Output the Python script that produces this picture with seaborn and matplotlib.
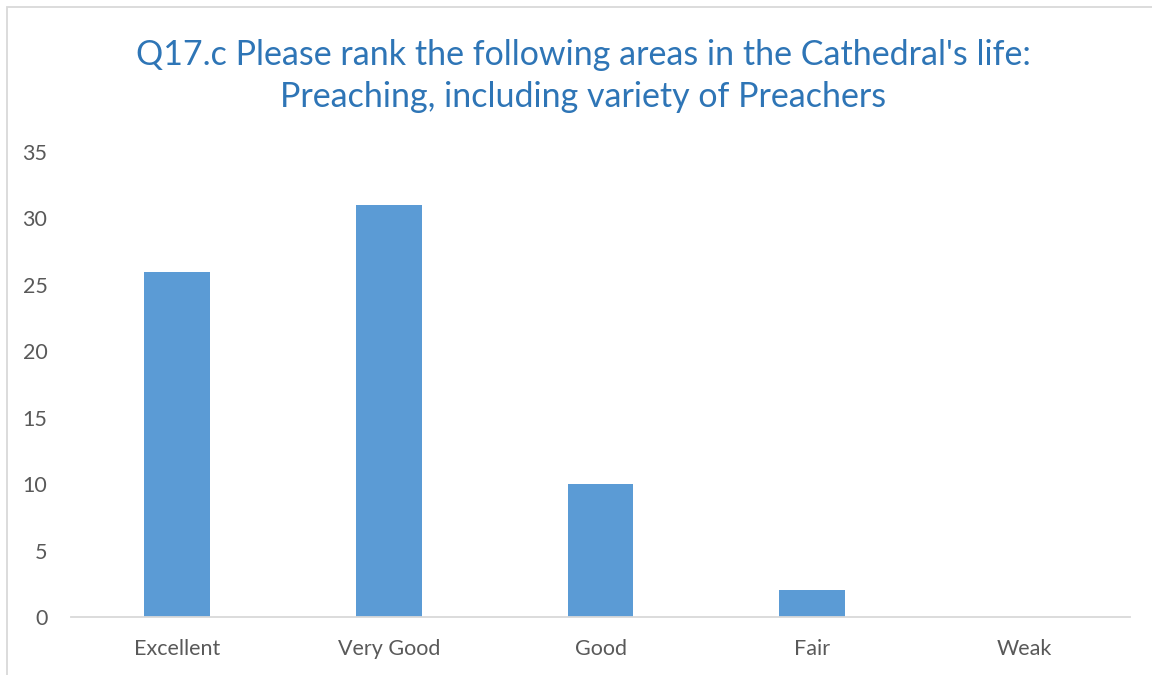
import matplotlib
matplotlib.use("Agg")
import matplotlib.pyplot as plt
import matplotlib.patches as mpatches
import seaborn as sns
import pandas as pd

categories = ["Excellent", "Very Good", "Good", "Fair", "Weak"]
values = [26, 31, 10, 2, 0]
yticks = [0, 5, 10, 15, 20, 25, 30, 35]
title_lines = ["Q17.c Please rank the following areas in the Cathedral's life:",
               "Preaching, including variety of Preachers"]

sns.set_theme(style="white")
plt.rcParams['font.family'] = ['Lato', 'DejaVu Sans']

W, H = 1152, 675
fig = plt.figure(figsize=(W / 100, H / 100), dpi=100)
ax = fig.add_axes([71 / W, 1 - 617 / H, (1130 - 71) / W, (617 - 152) / H])

df = pd.DataFrame({"cat": categories, "val": values})
sns.barplot(data=df, x="cat", y="val", color="#5B9BD5", saturation=1, width=0.31,
            linewidth=0, ax=ax)

ax.set_ylim(0, 35)
ax.set_xlim(-0.5, len(categories) - 0.5)
ax.set_yticks(yticks)
ax.set_xlabel("")
ax.set_ylabel("")
for s in ["top", "right", "left"]:
    ax.spines[s].set_visible(False)
ax.spines["bottom"].set_color("#D9D9D9")
ax.spines["bottom"].set_linewidth(1.3)
ax.tick_params(axis="both", length=0, labelsize=15.5, labelcolor="#595959")
ax.tick_params(axis="y", pad=17)
ax.tick_params(axis="x", pad=16)

for i, line in enumerate(title_lines):
    fig.text(583 / W, 1 - (55 + 42 * i) / H, line, ha="center", va="center",
             fontsize=24.5, color="#2E75B6", fontweight="normal")

border = mpatches.Rectangle((7 / W, -0.1), 1.2, 1 - 7 / H + 0.1, transform=fig.transFigure,
                            fill=False, edgecolor="#D9D9D9", linewidth=1.3)
fig.add_artist(border)

fig.savefig("out.png", dpi=100)
